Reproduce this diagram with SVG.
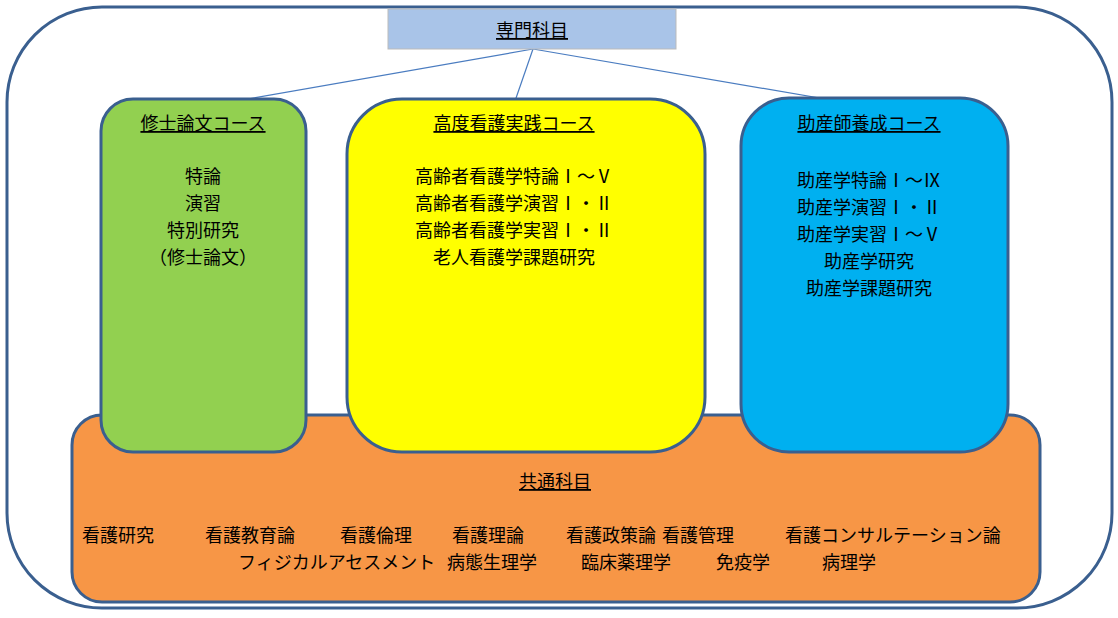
<svg xmlns="http://www.w3.org/2000/svg" width="1118" height="618" viewBox="0 0 1118 618">
<style>
text{font-family:"Liberation Sans","Noto Sans CJK JP",sans-serif;font-size:18px;fill:#000}
.c{text-anchor:middle}
.u{text-decoration:underline}
.box{stroke:#3a5f8f;stroke-width:3}
</style>
<rect x="0" y="0" width="1118" height="618" fill="#fff"/>
<rect x="7" y="7" width="1105" height="601" rx="95" fill="#fff" stroke="#3a5f8f" stroke-width="3"/>
<g id="connectors" stroke="#4a7cc0" stroke-width="1.2">
<line x1="533" y1="49" x2="231" y2="102"/>
<line x1="533" y1="49" x2="515" y2="101"/>
<line x1="533" y1="49" x2="866" y2="106"/>
</g>
<g id="top">
<rect x="388" y="9" width="288" height="40" fill="#a9c4e8" stroke="#bbb"/>
<text class="c u" x="532" y="37">専門科目</text>
</g>
<g id="common">
<rect class="box" x="72" y="415" width="968" height="187" rx="30" fill="#f79646"/>
<text class="c u" x="555" y="488">共通科目</text>
<text x="82" y="542">看護研究</text>
<text x="205" y="542">看護教育論</text>
<text x="340" y="542">看護倫理</text>
<text x="452" y="542">看護理論</text>
<text x="566" y="542">看護政策論</text>
<text x="662" y="542">看護管理</text>
<text x="785" y="542">看護コンサルテーション論</text>
<text x="238" y="569">フィジカルアセスメント</text>
<text x="447" y="569">病態生理学</text>
<text x="581" y="569">臨床薬理学</text>
<text x="716" y="569">免疫学</text>
<text x="822" y="569">病理学</text>
</g>
<g id="master">
<rect class="box" x="101" y="99" width="205" height="353" rx="32" fill="#92d050"/>
<text class="c u" x="203" y="130">修士論文コース</text>
<text class="c" x="203" y="183">特論</text>
<text class="c" x="203" y="210">演習</text>
<text class="c" x="203" y="237">特別研究</text>
<text class="c" x="203" y="264">（修士論文）</text>
</g>
<g id="advanced">
<rect class="box" x="347" y="99" width="358" height="353" rx="55" fill="#ffff00"/>
<text class="c u" x="514" y="130">高度看護実践コース</text>
<text class="c" x="514" y="183">高齢者看護学特論Ⅰ～Ⅴ</text>
<text class="c" x="514" y="210">高齢者看護学演習Ⅰ・Ⅱ</text>
<text class="c" x="514" y="237">高齢者看護学実習Ⅰ・Ⅱ</text>
<text class="c" x="514" y="264">老人看護学課題研究</text>
</g>
<g id="midwife">
<rect class="box" x="741" y="98" width="267" height="354" rx="48" fill="#00b0f0"/>
<text class="c u" x="869" y="130">助産師養成コース</text>
<text class="c" x="869" y="187">助産学特論Ⅰ～Ⅸ</text>
<text class="c" x="869" y="214">助産学演習Ⅰ・Ⅱ</text>
<text class="c" x="869" y="241">助産学実習Ⅰ～Ⅴ</text>
<text class="c" x="869" y="268">助産学研究</text>
<text class="c" x="869" y="295">助産学課題研究</text>
</g>
</svg>
